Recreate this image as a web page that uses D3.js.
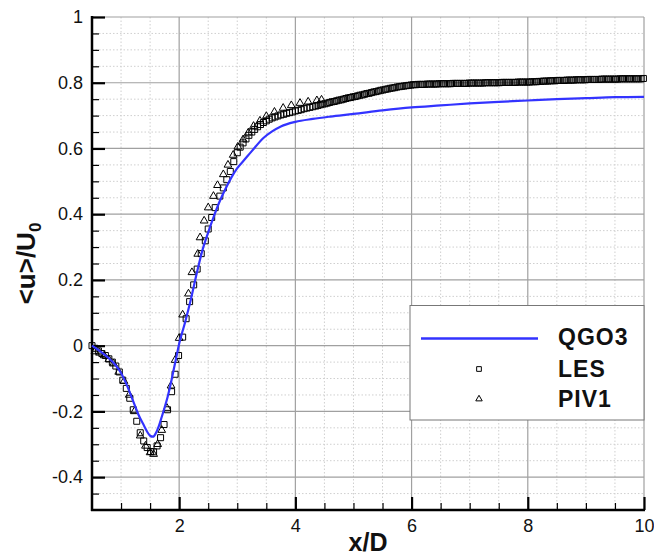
<!DOCTYPE html>
<html><head><meta charset="utf-8">
<script src="https://cdn.jsdelivr.net/npm/d3@7"></script>
<style>html,body{margin:0;padding:0;background:#fff;}svg{display:block;}</style>
</head><body>
<script>
// ---- data ----
const seriesNames = ["QGO3", "LES", "PIV1"];
const xTickValues = [2, 4, 6, 8, 10];
const xTickLabels = ["2", "4", "6", "8", "10"];
const yTickValues = [-0.4, -0.2, 0, 0.2, 0.4, 0.6, 0.8, 1];
const yTickLabels = ["-0.4", "-0.2", "0", "0.2", "0.4", "0.6", "0.8", "1"];

// QGO3 (line)
const qgo3Data = [[0.5,0.0],[0.6,-0.012],[0.7,-0.025],[0.8,-0.04],[0.9,-0.058],[1.0,-0.083],[1.1,-0.12],[1.2,-0.165],[1.3,-0.21],[1.4,-0.245],[1.45,-0.262],[1.5,-0.274],[1.55,-0.277],[1.6,-0.266],[1.65,-0.245],[1.7,-0.217],[1.75,-0.188],[1.8,-0.157],[1.85,-0.12],[1.9,-0.078],[1.95,-0.036],[2.0,0.006],[2.1,0.07],[2.2,0.14],[2.3,0.218],[2.4,0.29],[2.5,0.345],[2.6,0.395],[2.7,0.44],[2.8,0.478],[2.9,0.512],[3.0,0.54],[3.13,0.567],[3.25,0.592],[3.45,0.632],[3.6,0.652],[3.75,0.667],[4.0,0.681],[4.3,0.69],[4.6,0.697],[5.0,0.705],[5.5,0.716],[6.0,0.725],[6.5,0.731],[7.0,0.737],[7.5,0.742],[8.0,0.746],[8.5,0.75],[9.0,0.753],[9.5,0.756],[10.0,0.757]];

// LES (open squares)
const lesData = [[0.5,0],[0.55,-0.008],[0.61,-0.016],[0.67,-0.024],[0.73,-0.03],[0.79,-0.04],[0.85,-0.05],[0.91,-0.062],[0.97,-0.08],[1.03,-0.105],[1.09,-0.13],[1.15,-0.16],[1.21,-0.195],[1.27,-0.23],[1.33,-0.265],[1.39,-0.29],[1.45,-0.31],[1.51,-0.322],[1.56,-0.323],[1.62,-0.305],[1.68,-0.28],[1.74,-0.24],[1.8,-0.195],[1.87,-0.14],[1.93,-0.087],[1.99,-0.03],[2.06,0.026],[2.12,0.082],[2.18,0.134],[2.25,0.185],[2.31,0.233],[2.38,0.28],[2.45,0.319],[2.5,0.355],[2.56,0.39],[2.62,0.42],[2.7,0.455],[2.76,0.48],[2.82,0.505],[2.88,0.53],[2.94,0.56],
[3.0,0.587],[3.05,0.604],[3.1,0.617],[3.15,0.629],[3.2,0.64],[3.25,0.65],[3.3,0.658],[3.35,0.666],[3.4,0.673],[3.45,0.679],[3.5,0.684],[3.55,0.689],[3.6,0.693],[3.65,0.696],[3.7,0.699],[3.75,0.702],[3.8,0.704],[3.85,0.707],[3.9,0.709],[3.95,0.711],[4.0,0.714],[4.05,0.716],[4.1,0.718],[4.15,0.721],[4.2,0.723],[4.25,0.725],[4.3,0.727],[4.35,0.729],[4.39,0.731],
[4.43,0.733],[4.47,0.735],[4.51,0.736],[4.55,0.738],[4.59,0.74],[4.63,0.742],[4.67,0.743],[4.71,0.745],[4.75,0.747],[4.79,0.748],[4.83,0.75],[4.87,0.752],[4.91,0.754],[4.95,0.755],[4.99,0.757],
[5.03,0.758],[5.07,0.76],[5.11,0.762],[5.15,0.763],[5.19,0.765],[5.23,0.767],[5.27,0.768],[5.31,0.77],[5.35,0.772],[5.39,0.773],[5.43,0.775],[5.47,0.777],[5.51,0.778],
[5.55,0.78],[5.59,0.781],[5.63,0.783],[5.67,0.784],[5.71,0.785],[5.75,0.787],[5.79,0.788],[5.83,0.789],[5.87,0.79],[5.91,0.791],[5.95,0.792],[5.99,0.793],
[6.03,0.794],[6.07,0.794],[6.11,0.795],[6.15,0.795],[6.19,0.795],[6.23,0.795],[6.27,0.796],[6.31,0.796],[6.35,0.796],[6.39,0.796],[6.43,0.796],[6.47,0.797],[6.51,0.797],[6.55,0.797],[6.59,0.797],[6.63,0.797],[6.67,0.797],[6.71,0.798],[6.75,0.798],[6.79,0.798],[6.83,0.798],[6.87,0.798],[6.91,0.798],[6.95,0.798],[6.99,0.799],[7.03,0.799],[7.07,0.799],[7.11,0.799],[7.15,0.799],[7.19,0.799],
[7.23,0.799],[7.27,0.8],[7.31,0.8],[7.35,0.8],[7.39,0.8],[7.43,0.8],[7.47,0.8],[7.51,0.8],[7.55,0.801],[7.59,0.801],[7.63,0.801],[7.67,0.801],[7.71,0.801],[7.75,0.801],[7.79,0.801],[7.83,0.802],[7.87,0.802],[7.91,0.802],[7.95,0.802],[7.99,0.802],
[8.03,0.802],[8.07,0.803],[8.11,0.803],[8.15,0.803],[8.19,0.804],[8.23,0.804],[8.27,0.805],[8.31,0.805],[8.35,0.805],[8.39,0.806],[8.43,0.806],[8.47,0.806],[8.51,0.807],[8.55,0.807],[8.59,0.807],[8.63,0.807],[8.67,0.808],[8.71,0.808],[8.75,0.808],[8.79,0.808],[8.83,0.809],[8.87,0.809],[8.91,0.809],
[8.95,0.809],[8.99,0.809],[9.03,0.81],[9.07,0.81],[9.11,0.81],[9.15,0.81],[9.19,0.81],[9.23,0.81],[9.27,0.811],[9.31,0.811],[9.35,0.811],[9.39,0.811],[9.43,0.811],[9.47,0.811],[9.51,0.811],[9.55,0.811],[9.59,0.812],[9.63,0.812],[9.67,0.812],[9.71,0.812],[9.75,0.812],[9.79,0.812],[9.83,0.812],[9.87,0.812],[9.91,0.812],[9.95,0.812],[9.99,0.813]];

// PIV1 (open triangles)
const piv1Data = [[0.55,-0.018],[0.63,-0.022],[0.71,-0.03],[0.79,-0.042],[0.87,-0.055],[0.96,-0.08],[1.05,-0.108],[1.14,-0.15],[1.23,-0.2],[1.33,-0.274],[1.42,-0.305],[1.5,-0.325],[1.56,-0.33],[1.63,-0.3],[1.7,-0.257],[1.79,-0.19],[1.86,-0.122],[1.93,-0.044],[2.0,0.023],[2.06,0.094],[2.16,0.158],[2.22,0.223],[2.32,0.279],[2.36,0.329],[2.43,0.38],[2.5,0.42],[2.59,0.455],[2.66,0.488],[2.76,0.521],[2.84,0.55],[2.93,0.58],[3.01,0.605],[3.1,0.627],[3.19,0.648],[3.28,0.668],[3.39,0.684],[3.5,0.698],[3.64,0.711],[3.79,0.723],[3.93,0.731],[4.08,0.738],[4.22,0.742],[4.37,0.746],[4.45,0.748]];

// ---- layout ----
const W = 654, H = 557;
const pLeft = 92, pRight = 644, pTop = 17, pBottom = 510;
const svg = d3.select("body").append("svg").attr("width", W).attr("height", H);
const x = d3.scaleLinear().domain([0.5, 10]).range([pLeft, pRight]);
const y = d3.scaleLinear().domain([-0.5, 1]).range([pBottom, pTop]);
const FONT = "'Liberation Sans', Arial, Helvetica, sans-serif";

// minor grid
const xMinor = d3.range(1, 10.01, 0.5).filter(v => Math.abs(v / 2 - Math.round(v / 2)) > 1e-6);
const yMinor = d3.range(-0.45, 1.001, 0.05).filter(v => Math.abs(v / 0.2 - Math.round(v / 0.2)) > 1e-6);
const g = svg.append("g");
g.selectAll(".vminor").data(xMinor).enter().append("line")
  .attr("x1", d => x(d)).attr("x2", d => x(d)).attr("y1", pTop).attr("y2", pBottom)
  .attr("stroke", "#cfcfcf").attr("stroke-width", 1).attr("stroke-dasharray", "1.5,2");
g.selectAll(".hminor").data(yMinor).enter().append("line")
  .attr("y1", d => y(d)).attr("y2", d => y(d)).attr("x1", pLeft).attr("x2", pRight)
  .attr("stroke", "#cfcfcf").attr("stroke-width", 1).attr("stroke-dasharray", "1.5,2");
// major grid
g.selectAll(".vmajor").data(xTickValues).enter().append("line")
  .attr("x1", d => x(d)).attr("x2", d => x(d)).attr("y1", pTop).attr("y2", pBottom)
  .attr("stroke", "#a0a0a0").attr("stroke-width", 1.2);
g.selectAll(".hmajor").data(yTickValues).enter().append("line")
  .attr("y1", d => y(d)).attr("y2", d => y(d)).attr("x1", pLeft).attr("x2", pRight)
  .attr("stroke", "#a0a0a0").attr("stroke-width", 1.2);

// axes
const xAxis = d3.axisBottom(x).tickValues(xTickValues).tickFormat((d, i) => xTickLabels[i]).tickSizeInner(-13).tickSizeOuter(0).tickPadding(9);
const yAxis = d3.axisLeft(y).tickValues(yTickValues).tickFormat((d, i) => yTickLabels[i]).tickSizeInner(-13).tickSizeOuter(0).tickPadding(9);
const xMinorAxis = d3.axisBottom(x).tickValues(xMinor).tickFormat("").tickSizeInner(-7).tickSizeOuter(0);
const yMinorAxis = d3.axisLeft(y).tickValues(yMinor).tickFormat("").tickSizeInner(-7).tickSizeOuter(0);

function styleAxis(sel, w) {
  sel.select(".domain").remove();
  sel.selectAll(".tick line").attr("stroke", "#000").attr("stroke-width", w);
  sel.selectAll(".tick text").attr("fill", "#111").style("font-family", FONT).style("font-size", "18px");
}
svg.append("g").attr("transform", `translate(0,${pBottom})`).call(xMinorAxis).call(s => styleAxis(s, 1.2));
svg.append("g").attr("transform", `translate(${pLeft},0)`).call(yMinorAxis).call(s => styleAxis(s, 1.2));
svg.append("g").attr("transform", `translate(0,${pBottom})`).call(xAxis).call(s => styleAxis(s, 2.2));
svg.append("g").attr("transform", `translate(${pLeft},0)`).call(yAxis).call(s => styleAxis(s, 2.2));
svg.append("line").attr("x1", pLeft).attr("x2", pLeft).attr("y1", pTop - 1).attr("y2", pBottom + 1).attr("stroke", "#000").attr("stroke-width", 2.5);
svg.append("line").attr("x1", pLeft - 1).attr("x2", pRight + 1).attr("y1", pBottom).attr("y2", pBottom).attr("stroke", "#000").attr("stroke-width", 2.5);

// data marks
const plot = svg.append("g");
const sq = d3.symbol().type(d3.symbolSquare).size(36);
const tri = d3.symbol().type(d3.symbolTriangle).size(26);
plot.selectAll(".les").data(lesData).enter().append("path")
  .attr("d", sq).attr("transform", d => `translate(${x(d[0])},${y(d[1])})`)
  .attr("fill", "none").attr("stroke", "#000").attr("stroke-width", 1);
plot.selectAll(".piv").data(piv1Data).enter().append("path")
  .attr("d", tri).attr("transform", d => `translate(${x(d[0])},${y(d[1])})`)
  .attr("fill", "none").attr("stroke", "#000").attr("stroke-width", 1);
plot.append("path").datum(qgo3Data)
  .attr("d", d3.line().x(d => x(d[0])).y(d => y(d[1])).curve(d3.curveMonotoneX))
  .attr("fill", "none").attr("stroke", "#3333ff").attr("stroke-width", 2.2);

// axis titles
svg.append("text").attr("x", (pLeft + pRight) / 2).attr("y", 551).attr("text-anchor", "middle")
  .style("font-family", FONT).style("font-weight", "bold").style("font-size", "25px").attr("fill", "#111").text("x/D");
const yl = svg.append("text").attr("transform", `translate(35,${(pTop + pBottom) / 2}) rotate(-90)`).attr("text-anchor", "middle")
  .style("font-family", FONT).style("font-weight", "bold").style("font-size", "26px").attr("fill", "#111");
yl.append("tspan").text("<u>/U");
yl.append("tspan").attr("dy", 6).style("font-size", "17px").text("0");

// legend
const lg = svg.append("g");
lg.append("rect").attr("x", 410).attr("y", 305.5).attr("width", 234).attr("height", 114.5)
  .attr("fill", "#fff").attr("stroke", "#777").attr("stroke-width", 1);
lg.append("line").attr("x1", 421).attr("x2", 538).attr("y1", 338.5).attr("y2", 338.5).attr("stroke", "#3333ff").attr("stroke-width", 2.5);
lg.append("path").attr("d", d3.symbol().type(d3.symbolSquare).size(22)).attr("transform", "translate(479,369)")
  .attr("fill", "none").attr("stroke", "#000").attr("stroke-width", 1);
lg.append("path").attr("d", d3.symbol().type(d3.symbolTriangle).size(18)).attr("transform", "translate(479,399)")
  .attr("fill", "none").attr("stroke", "#000").attr("stroke-width", 1);
const ly = [345, 377, 407];
lg.selectAll(".lt").data(seriesNames).enter().append("text")
  .attr("x", 558).attr("y", (d, i) => ly[i])
  .style("font-family", FONT).style("font-weight", "bold").style("font-size", "23px").style("letter-spacing", "1px")
  .attr("fill", "#111").text(d => d);
</script>
</body></html>
